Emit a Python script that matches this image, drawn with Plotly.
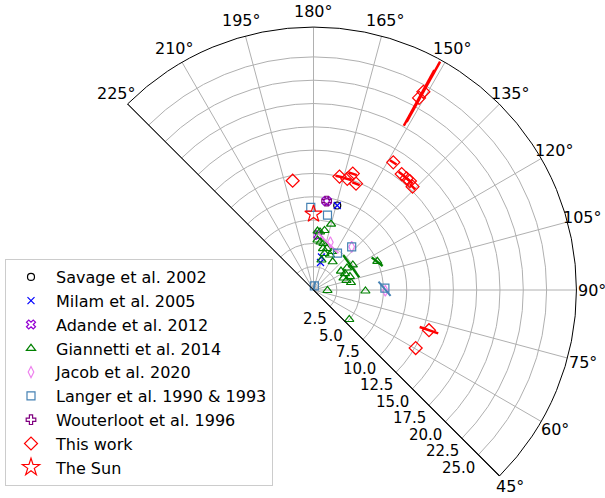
import math
import plotly.graph_objects as go

# ---------------- data (r in kpc, theta in degrees) ----------------
R_MAX = 28.2
ang_ticks = [45, 60, 75, 90, 105, 120, 135, 150, 165, 180, 195, 210, 225]
rad_ticks = [2.5, 5.0, 7.5, 10.0, 12.5, 15.0, 17.5, 20.0, 22.5, 25.0]

savage_r = [9.41]
savage_th = [164.3]

milam_r = [9.41, 3.64, 3.04]
milam_th = [164.3, 166.4, 165.7]

adande_r = [5.92, 9.64]
adande_th = [175.0, 171.6]

giannetti_r = [7.32, 6.34, 6.26, 6.49, 5.38, 5.20, 5.10, 4.56, 4.68, 4.09, 4.15, 4.58, 3.33,
               3.58, 3.81, 4.30, 3.46, 3.68, 4.17, 4.10, 7.50, 1.50, 5.57, 4.97, 5.00, 3.66]
giannetti_th = [165.1, 176.1, 173.6, 169.5, 175.4, 171.7, 167.9, 167.1, 162.0, 163.2, 154.8, 154.3, 165.1,
                124.6, 117.6, 123.3, 111.8, 106.1, 110.3, 101.3, 114.2, 88.0, 88.9, 50.5, 122.5, 145.8]
giannetti_rerr = [0, 0, 0, 0, 0, 0, 0, 0, 0, 0, 0, 0, 0,
                  0, 0, 0, 0, 0, 0, 0, 0.35, 0, 0, 0, 0.085, 0]
giannetti_therr = [0, 0, 0, 0, 0, 0, 0, 0, 0, 0, 0, 0, 0,
                   0, 0, 0, 0, 0, 0, 0, -5.1, 0, 0, 0, -17.05, 0]

jacob_r = [5.42, 6.18, 7.70]
jacob_th = [160.5, 138.5, 89.4]
jacob_rerr = [0.675, 0, 0]
jacob_therr = [14.65, 0, 0]

langer_r = [8.87, 8.16, 6.18, 4.71, 0.45, 7.66]
langer_th = [181.9, 169.4, 138.5, 146.9, 168.0, 91.5]
langer_rerr = [0, 0, 0, 0, 0.45, 0.63]
langer_therr = [0, 0, 0, 0, 0, -5.9]

wouter_r = [9.64]
wouter_th = [171.6]

work_r = [23.5, 24.3, 16.14, 15.62, 15.59, 15.6, 15.35, 12.48, 12.46, 13.17, 12.28, 11.93, 13.11, 12.6]
work_th = [151.2, 151.0, 148.0, 142.75, 140.2, 138.5, 136.2, 167.1, 163.1, 161.35, 158.2, 190.8, 70.8, 60.4]
work_rerr = [3.4, 3.7, 0, 0, 0, 0, 0, 0, 0, 0, 0, 0, 1.05, 0]
work_therr = [0, 0, 1.5, 1.5, 1.5, 1.5, 1.5, 2.0, 2.0, 2.0, 2.0, 0, 0, 0]

sun_r = [8.15]
sun_th = [180.0]

# ---------------- layout geometry (pixels) ----------------
W, H = 605, 498
CX, CY, RPX = 313.5, 290.0, 263.0      # centre and outer radius of the polar sector
FONT = "DejaVu Sans"

fig = go.Figure()

# frame line on the 225 degree edge
fig.add_trace(go.Scatterpolar(r=[0, R_MAX], theta=[225, 225], mode="lines",
                              line=dict(color="black", width=1), showlegend=False, hoverinfo="skip"))


def add_err(r, th, re, te, color, width=2):
    rr, tt = [], []
    for a, b, c, d in zip(r, th, re, te):
        if c == 0 and d == 0:
            continue
        rr += [max(a - c, 0), a + c, None]
        tt += [b - d, b + d, None]
    if rr:
        fig.add_trace(go.Scatterpolar(r=rr, theta=tt, mode="lines",
                                      line=dict(color=color, width=width),
                                      showlegend=False, hoverinfo="skip"))


def add_series(name, r, th, color, symbol, size, lw=1.2):
    fig.add_trace(go.Scatterpolar(
        r=r, theta=th, mode="markers", name=name,
        marker=dict(symbol=symbol, size=size, color=color,
                    line=dict(color=color, width=lw))))


add_series("Savage et al. 2002", savage_r, savage_th, "black", "circle-open", 7)
add_series("Milam et al. 2005", milam_r, milam_th, "blue", "x-thin-open", 7)
add_series("Adande et al. 2012", adande_r, adande_th, "darkviolet", "x-open", 8)
add_err(giannetti_r, giannetti_th, giannetti_rerr, giannetti_therr, "green", 2.5)
add_series("Giannetti et al. 2014", giannetti_r, giannetti_th, "green", "triangle-up-open", 8)
add_err(jacob_r, jacob_th, jacob_rerr, jacob_therr, "violet", 2)
add_series("Jacob et al. 2020", jacob_r, jacob_th, "violet", "diamond-tall-open", 8)
add_err(langer_r, langer_th, langer_rerr, langer_therr, "steelblue", 2)
add_series("Langer et al. 1990 & 1993", langer_r, langer_th, "steelblue", "square-open", 8)
add_series("Wouterloot et al. 1996", wouter_r, wouter_th, "purple", "cross-open", 8)
add_err(work_r, work_th, work_rerr, work_therr, "red", 2.5)
add_series("This work", work_r, work_th, "red", "diamond-open", 10)
add_series("The Sun", sun_r, sun_th, "red", "star-open", 13)

# tick labels placed like matplotlib's polar labels
annotations = []
for a in ang_ticks:
    phi = math.radians(a - 90)
    px = CX + (RPX + 15.5) * math.cos(phi)
    py = CY - (RPX + 15.5) * math.sin(phi)
    annotations.append(dict(x=px / W, y=1 - py / H, xref="paper", yref="paper",
                            text=f"{a}°", showarrow=False, xanchor="center", yanchor="middle",
                            font=dict(size=16, family=FONT, color="black")))
kpx = RPX / R_MAX
for v in rad_ticks:
    d = v * kpx / math.sqrt(2)
    px, py = CX + d, CY + d
    annotations.append(dict(x=(px - 1) / W, y=1 - (py + 13) / H, xref="paper", yref="paper",
                            text=f"{v:.1f}", showarrow=False, xanchor="right", yanchor="middle",
                            font=dict(size=15, family=FONT, color="black")))

fig.update_layout(
    width=W, height=H,
    margin=dict(l=0, r=0, t=0, b=0, autoexpand=False),
    paper_bgcolor="white",
    font=dict(family=FONT, size=16, color="black"),
    annotations=annotations,
    polar=dict(
        domain=dict(x=[(CX - RPX * math.sqrt(0.5)) / W, (CX + RPX) / W],
                    y=[1 - (CY + RPX * math.sqrt(0.5)) / H, 1 - (CY - RPX) / H]),
        sector=[-45, 135],
        bgcolor="white",
        angularaxis=dict(rotation=-90, direction="counterclockwise",
                         tickvals=ang_ticks, showticklabels=False,
                         showline=True, linecolor="black", linewidth=1,
                         gridcolor="#b0b0b0", gridwidth=0.8, ticks=""),
        radialaxis=dict(range=[0, R_MAX], tickvals=rad_ticks, showticklabels=False,
                        showline=True, linecolor="black", linewidth=1,
                        gridcolor="#b0b0b0", gridwidth=0.8, ticks=""),
    ),
    legend=dict(x=5 / W, y=1 - 259 / H,
                xanchor="left", yanchor="top", bgcolor="rgba(255,255,255,0.8)",
                bordercolor="#cccccc", borderwidth=1,
                itemwidth=40, maxheight=1.0,
                font=dict(size=16, family=FONT, color="black")),
    showlegend=True,
)

fig.write_html("out.html")
